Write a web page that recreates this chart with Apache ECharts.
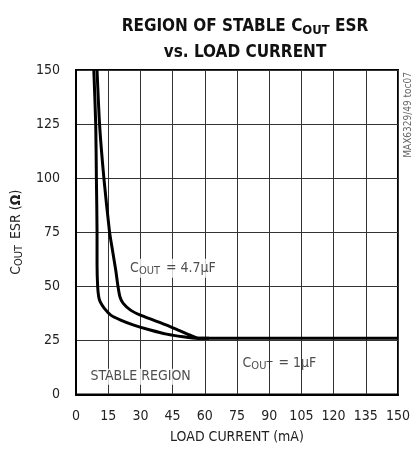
<!DOCTYPE html>
<html><head><meta charset="utf-8">
<script src="https://cdn.jsdelivr.net/npm/echarts@6/dist/echarts.min.js"></script>
<style>html,body{margin:0;padding:0;background:#fff}#c{width:413px;height:455px}</style>
</head><body><div id="c"></div>
<script>
const FONT = '"Liberation Sans Narrow","DejaVu Sans Condensed","Liberation Sans",sans-serif';
const xTicks = [0, 15, 30, 45, 60, 75, 90, 105, 120, 135, 150];
const yTicks = [0, 25, 50, 75, 100, 125, 150];
// C_OUT = 1uF : load current (mA) and ESR (ohm)
const c1_x = [8.3, 9.2, 9.5, 9.8, 9.8, 10.1, 10.6, 11.3, 13.2, 16.2, 20.8, 26.9, 34.6, 42.2, 49.9, 56.9, 150];
const c1_y = [150, 124.5, 99.9, 75.3, 60.5, 49.7, 45.1, 42.8, 39.8, 36.7, 34.4, 32.1, 29.8, 27.9, 26.7, 26, 26];
// C_OUT = 4.7uF : load current (mA) and ESR (ohm)
const c47_x = [9.8, 11.0, 13.0, 15.6, 17.0, 18.5, 19.6, 20.5, 22.0, 25.4, 30.0, 36.1, 42.2, 47.6, 52.9, 56.9, 62];
const c47_y = [150, 124.5, 99.9, 75.3, 66.7, 57.5, 49.7, 45.1, 42.1, 39.0, 36.7, 34.4, 32.1, 29.8, 27.5, 26, 26];
const labels = [
  {x: 25.2, y: 58.4, text: '{n|C}{s|OUT}{n| = 4.7µF}', bg: '#fff'},
  {x: 77.6, y: 14.5, text: '{n|C}{s|OUT}{n| = 1µF}', bg: 'transparent'},
  {x: 6.7, y: 8.2, text: '{n|STABLE REGION}', bg: '#fff'}
];
const zip = (a, b) => a.map((v, i) => [v, b[i]]);
const chart = echarts.init(document.getElementById('c'), null, {renderer: 'canvas'});
const rich = {
  n: {fontFamily: FONT, fontSize: 14, color: '#222'},
  s: {fontFamily: FONT, fontSize: 11, color: '#222', padding: [6, 2, 0, 0]}
};
chart.setOption({
  animation: false,
  title: {
    text: '{t|REGION OF STABLE C}{ts|OUT}{t| ESR}\n{t|vs. LOAD CURRENT}',
    left: 240, top: 9, textAlign: 'center',
    textStyle: {
      lineHeight: 26,
      rich: {
        t: {fontFamily: FONT, fontWeight: 'bold', fontSize: 17, color: '#111', lineHeight: 26},
        ts: {fontFamily: FONT, fontWeight: 'bold', fontSize: 13, color: '#111', lineHeight: 26, padding: [7, 0, 0, 0]}
      }
    }
  },
  grid: {left: 76, right: 10, top: 70, bottom: 60.5, show: true, borderColor: '#000', borderWidth: 2, backgroundColor: 'transparent'},
  xAxis: {
    type: 'value', min: 0, max: 150, interval: 15,
    name: 'LOAD CURRENT (mA)', nameLocation: 'middle', nameGap: 36,
    nameTextStyle: {fontFamily: FONT, fontSize: 14, color: '#222'},
    axisLine: {show: true, lineStyle: {color: '#000', width: 2}},
    axisTick: {show: false},
    axisLabel: {fontFamily: FONT, fontSize: 14, color: '#222', margin: 15, formatter: v => xTicks.includes(v) ? String(v) : ''},
    splitLine: {show: true, lineStyle: {color: '#333', width: 1}}
  },
  yAxis: {
    type: 'value', min: 0, max: 150, interval: 25,
    name: '{n|C}{s|OUT}{n| ESR (}{b|Ω}{n|)}', nameLocation: 'middle', nameGap: 40, nameRotate: 90,
    nameTextStyle: {rich: {
      n: {fontFamily: FONT, fontSize: 14, color: '#222'},
      b: {fontFamily: FONT, fontSize: 14, color: '#222', fontWeight: 'bold'},
      s: {fontFamily: FONT, fontSize: 11, color: '#222', padding: [6, 2, 0, 0]}
    }},
    axisLine: {show: true, lineStyle: {color: '#000', width: 2}},
    axisTick: {show: false},
    axisLabel: {fontFamily: FONT, fontSize: 14, color: '#222', margin: 16, formatter: v => yTicks.includes(v) ? String(v) : ''},
    splitLine: {show: true, lineStyle: {color: '#333', width: 1}}
  },
  graphic: [{
    type: 'text', right: 0, top: 72, rotation: Math.PI / 2,
    style: {text: 'MAX6329/49 toc07', fontFamily: FONT, fontSize: 10, fill: '#666'}
  }],
  series: [
    {type: 'line', data: zip(c1_x, c1_y), smooth: 0.2, showSymbol: false, lineStyle: {color: '#000', width: 3, join: 'round'}, z: 5},
    {type: 'line', data: zip(c47_x, c47_y), smooth: 0.2, showSymbol: false, lineStyle: {color: '#000', width: 3, join: 'round'}, z: 5},
    {type: 'scatter', symbolSize: 0, z: 6,
     data: labels.map(l => ({value: [l.x, l.y], label: {formatter: l.text, backgroundColor: l.bg}})),
     label: {show: true, position: 'right', distance: 0, padding: [1, 2, 1, 0], rich: rich}}
  ]
});
</script></body></html>
